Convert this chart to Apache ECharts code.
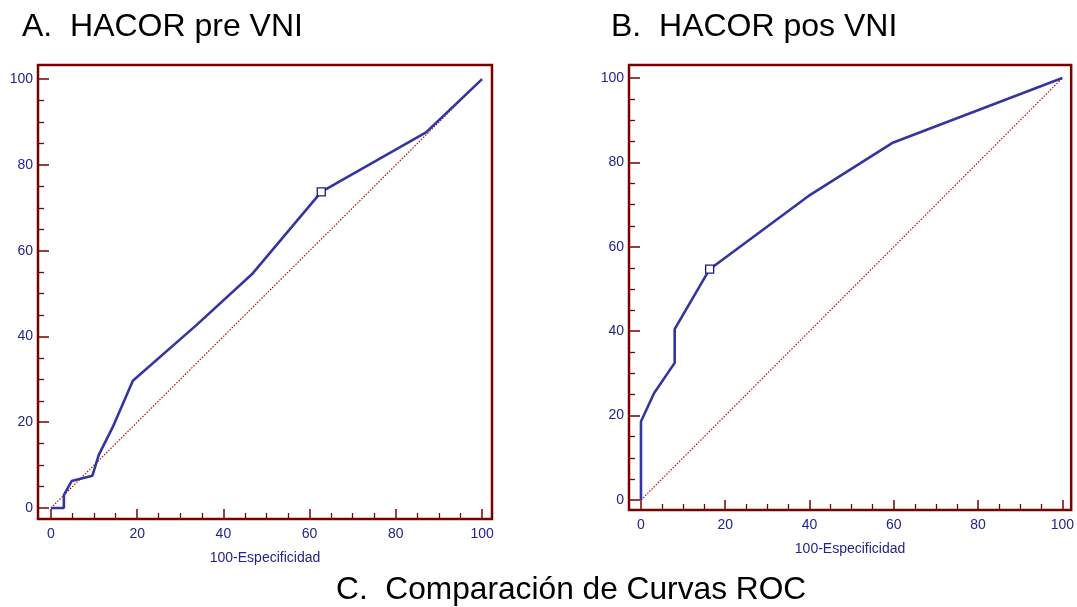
<!DOCTYPE html>
<html>
<head>
<meta charset="utf-8">
<script src="https://cdn.jsdelivr.net/npm/echarts@6/dist/echarts.min.js"></script>
<style>
  html, body { margin: 0; padding: 0; background: #fff; }
  #chart { width: 1077px; height: 607px; }
</style>
</head>
<body>
<div id="chart"></div>
<script>
// curva ROC HACOR pre VNI
var preX = [0, 3, 3, 4.8, 9.6, 11.1, 14.3, 19, 33.8, 46.6, 62.7, 87, 100];
var preY = [0, 0, 3, 6.3, 7.5, 12.4, 18.8, 29.7, 42.7, 54.5, 73.7, 87.6, 100];
var preCut = [62.7, 73.7];

// curva ROC HACOR pos VNI
var posX = [0, 0, 3.1, 8, 8, 16.3, 39.7, 59.6, 100];
var posY = [0, 18.6, 25.3, 32.5, 40.5, 54.7, 72, 84.6, 100];
var posCut = [16.3, 54.7];

// diagonal de referencia
var diagX = [0, 100];
var diagY = [0, 100];

var majorTicks = [0, 20, 40, 60, 80, 100];
var minorTicks = [5, 10, 15, 25, 30, 35, 45, 50, 55, 65, 70, 75, 85, 90, 95];

var titles = ["A.  HACOR pre VNI", "B.  HACOR pos VNI", "C.  Comparación de Curvas ROC"];
var xName = "100-Especificidad";

var frameColor = "#7a0000";
var blue = "#23238e";
var font = "Liberation Sans, Arial, sans-serif";

function pairs(xs, ys) {
	var out = [];
	for (var i = 0; i < xs.length; i++) {
		out.push([xs[i], ys[i]]);
	}
	return out;
}

// eje con marcas mayores y etiquetas, y otro solo con marcas menores
function makeAxes(dir, grid, min, max) {
	var isX = dir == "x";
	var main = {
		type: "value",
		gridIndex: grid,
		min: min,
		max: max,
		position: isX ? "bottom" : "left",
		axisLine: { show: false, onZero: false },
		splitLine: { show: false },
		axisTick: {
			inside: true,
			length: isX ? 10 : 11,
			customValues: majorTicks,
			lineStyle: { color: frameColor, width: 1.5 }
		},
		axisLabel: {
			customValues: majorTicks,
			color: blue,
			fontSize: 14,
			fontFamily: font,
			margin: isX ? 8 : 5
		}
	};
	if (isX) {
		main.name = xName;
		main.nameLocation = "middle";
		main.nameGap = 32;
		main.nameTextStyle = { color: blue, fontSize: 14, fontFamily: font };
	}
	var minor = {
		type: "value",
		gridIndex: grid,
		min: min,
		max: max,
		position: isX ? "bottom" : "left",
		axisLine: { show: false, onZero: false },
		splitLine: { show: false },
		axisLabel: { show: false },
		axisTick: {
			inside: true,
			length: 6,
			customValues: minorTicks,
			lineStyle: { color: frameColor, width: 1.3 }
		}
	};
	return [main, minor];
}

function rocSeries(grid, data, cut) {
	return [
		{
			type: "line",
			xAxisIndex: grid * 2,
			yAxisIndex: grid * 2,
			data: pairs(diagX, diagY),
			symbol: "none",
			silent: true,
			lineStyle: { color: "#a01818", width: 1.2, type: [1.5, 1.5] },
			z: 2
		},
		{
			type: "line",
			xAxisIndex: grid * 2,
			yAxisIndex: grid * 2,
			data: data,
			symbol: "none",
			lineStyle: { color: "#3535a0", width: 2.6 },
			z: 3
		},
		{
			type: "scatter",
			xAxisIndex: grid * 2,
			yAxisIndex: grid * 2,
			data: [cut],
			symbol: "rect",
			symbolSize: 8,
			itemStyle: { color: "#fff", opacity: 1, borderColor: "#1a1a80", borderWidth: 1.3 },
			z: 4
		}
	];
}

var chart = echarts.init(document.getElementById("chart"));

var xA = makeAxes("x", 0, -3, 102.3).concat(makeAxes("x", 1, -2.84, 102.1));
var yA = makeAxes("y", 0, -2.56, 103.3).concat(makeAxes("y", 1, -2.37, 103.1));

var titleStyle = { fontSize: 32, fontWeight: "normal", color: "#000", fontFamily: font };

var option = {
	animation: false,
	title: [
		{ text: titles[0], left: 17, top: 6, textStyle: titleStyle },
		{ text: titles[1], left: 606, top: 6, textStyle: titleStyle },
		{ text: titles[2], left: 331, top: 569, textStyle: { fontSize: 31.7, fontWeight: "normal", color: "#000", fontFamily: font } }
	],
	grid: [
		{ left: 38, top: 65, width: 454, height: 454, show: true, borderColor: frameColor, borderWidth: 2.5 },
		{ left: 629, top: 65, width: 444, height: 445, show: true, borderColor: frameColor, borderWidth: 2.5 }
	],
	xAxis: xA,
	yAxis: yA,
	series: rocSeries(0, pairs(preX, preY), preCut).concat(rocSeries(1, pairs(posX, posY), posCut))
};
chart.setOption(option);
</script>
</body>
</html>
